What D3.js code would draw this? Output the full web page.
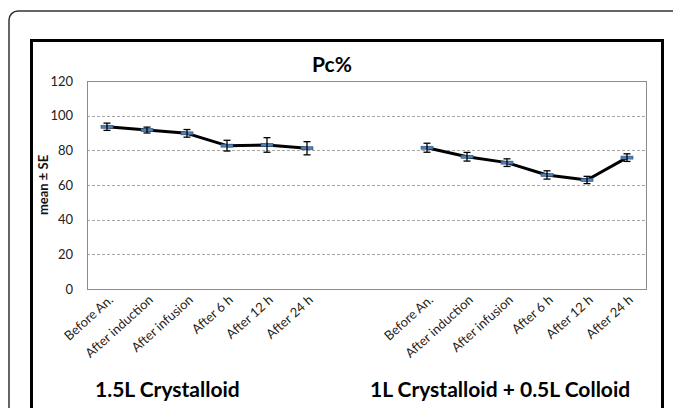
<!DOCTYPE html>
<html>
<head>
<meta charset="utf-8">
<script src="https://cdn.jsdelivr.net/npm/d3@7"></script>
<style>
  html, body { margin: 0; padding: 0; background: #fff; }
  svg { display: block; }
</style>
</head>
<body>
<svg id="chart" width="673" height="408"></svg>
<script>
// ---- data ----
const categories = ["Before An.", "After induction", "After infusion", "After 6 h", "After 12 h", "After 24 h"];
const groups = ["1.5L Crystalloid", "1L Crystalloid + 0.5L Colloid"];
const crystalloidMean = [93.6, 91.7, 89.8, 82.7, 83.1, 81.2];
const crystalloidSE   = [2.1, 1.7, 2.2, 3.1, 4.2, 3.8];
const colloidMean     = [81.5, 76.3, 72.9, 65.8, 62.9, 75.8];
const colloidSE       = [2.6, 2.5, 2.2, 2.4, 2.1, 2.2];
const yTicks = [0, 20, 40, 60, 80, 100, 120];
const title = "Pc%";
const yLabel = "mean ± SE";

// ---- layout ----
const svg = d3.select("#chart");
const plot = { left: 87, right: 647, top: 81, bottom: 289 };
const FONT = "Lato, 'Open Sans', sans-serif";

// 14 slots: 6 for group A, 2 empty, 6 for group B
const slots = [
  ...categories.map((c, i) => "A" + i),
  "gap1", "gap2",
  ...categories.map((c, i) => "B" + i)
];
const x = d3.scaleBand().domain(slots).range([plot.left, plot.right]).padding(0);
const y = d3.scaleLinear().domain([0, 120]).range([plot.bottom, plot.top]);
const cx = k => x(k) + x.bandwidth() / 2;

// outer rounded frame
svg.append("rect")
  .attr("x", 9).attr("y", 11).attr("width", 700).attr("height", 430)
  .attr("rx", 9).attr("ry", 9)
  .attr("fill", "none").attr("stroke", "#333").attr("stroke-width", 1.5);

// inner thick frame
svg.append("rect")
  .attr("x", 31.5).attr("y", 40.5).attr("width", 631).attr("height", 400)
  .attr("fill", "#fff").attr("stroke", "#000").attr("stroke-width", 3);

// gridlines
svg.append("g").selectAll("line")
  .data(yTicks.filter(t => t > 0 && t < 120))
  .join("line")
  .attr("x1", plot.left).attr("x2", plot.right)
  .attr("y1", d => Math.round(y(d)) + 0.5).attr("y2", d => Math.round(y(d)) + 0.5)
  .attr("stroke", "#a6a6a6").attr("stroke-width", 1)
  .attr("stroke-dasharray", "3,2");

// plot border
svg.append("rect")
  .attr("x", plot.left + 0.5).attr("y", plot.top + 0.5)
  .attr("width", plot.right - plot.left - 1).attr("height", plot.bottom - plot.top)
  .attr("fill", "none").attr("stroke", "#8c8c8c").attr("stroke-width", 1);

// y axis labels
const yAxis = d3.axisLeft(y).tickValues(yTicks).tickSize(0).tickPadding(14);
const yg = svg.append("g").attr("transform", `translate(${plot.left},0)`).call(yAxis);
yg.select(".domain").remove();
yg.selectAll("text")
  .attr("font-family", FONT)
  .attr("font-size", 13).attr("fill", "#222");

// y title
svg.append("text")
  .attr("transform", `translate(48,${(plot.top + plot.bottom) / 2}) rotate(-90)`)
  .attr("text-anchor", "middle")
  .attr("font-family", FONT)
  .attr("font-size", 13).attr("font-weight", "bold").attr("fill", "#111")
  .text(yLabel);

// title
svg.append("text")
  .attr("x", 332).attr("y", 72)
  .attr("text-anchor", "middle")
  .attr("font-family", FONT)
  .attr("font-size", 21).attr("font-weight", "bold").attr("fill", "#000")
  .text(title);

// x tick labels
const xg = svg.append("g");
["A", "B"].forEach(g => {
  categories.forEach((c, i) => {
    const px = cx(g + i);
    xg.append("text")
      .attr("transform", `translate(${px + 7},${plot.bottom + 12}) rotate(-42)`)
      .attr("text-anchor", "end")
      .attr("font-family", FONT)
      .attr("font-size", 13).attr("fill", "#222")
      .text(c);
  });
});

// group labels
svg.append("text")
  .attr("x", x("A0") + 8).attr("y", 397)
  .attr("font-family", FONT)
  .attr("font-size", 21).attr("font-weight", "bold").attr("fill", "#000")
  .text(groups[0]);
svg.append("text")
  .attr("x", x("B0") - 37).attr("y", 397)
  .attr("font-family", FONT)
  .attr("font-size", 21).attr("font-weight", "bold").attr("fill", "#000")
  .text(groups[1]);

// series
const seriesA = crystalloidMean.map((m, i) => ({ k: "A" + i, m, se: crystalloidSE[i] }));
const seriesB = colloidMean.map((m, i) => ({ k: "B" + i, m, se: colloidSE[i] }));
const line = d3.line().x(d => cx(d.k)).y(d => y(d.m));

[seriesA, seriesB].forEach(s => {
  const g = svg.append("g");
  g.append("path").datum(s).attr("d", line)
    .attr("fill", "none").attr("stroke", "#000").attr("stroke-width", 3)
    .attr("stroke-linejoin", "round");
  // markers (dash)
  g.selectAll("rect.mk").data(s).join("rect").attr("class", "mk")
    .attr("x", d => cx(d.k) - 6).attr("y", d => y(d.m) - 1.5)
    .attr("width", 12).attr("height", 3)
    .attr("fill", "#4f81bd").attr("stroke", "#2c4d75").attr("stroke-width", 0.6);
  // error bars
  g.selectAll("line.eb").data(s).join("line").attr("class", "eb")
    .attr("x1", d => cx(d.k)).attr("x2", d => cx(d.k))
    .attr("y1", d => y(d.m + d.se)).attr("y2", d => y(d.m - d.se))
    .attr("stroke", "#000").attr("stroke-width", 1.3);
  g.selectAll("line.ct").data(s).join("line").attr("class", "ct")
    .attr("x1", d => cx(d.k) - 3.5).attr("x2", d => cx(d.k) + 3.5)
    .attr("y1", d => y(d.m + d.se)).attr("y2", d => y(d.m + d.se))
    .attr("stroke", "#000").attr("stroke-width", 1.3);
  g.selectAll("line.cb").data(s).join("line").attr("class", "cb")
    .attr("x1", d => cx(d.k) - 3.5).attr("x2", d => cx(d.k) + 3.5)
    .attr("y1", d => y(d.m - d.se)).attr("y2", d => y(d.m - d.se))
    .attr("stroke", "#000").attr("stroke-width", 1.3);
});
</script>
</body>
</html>
